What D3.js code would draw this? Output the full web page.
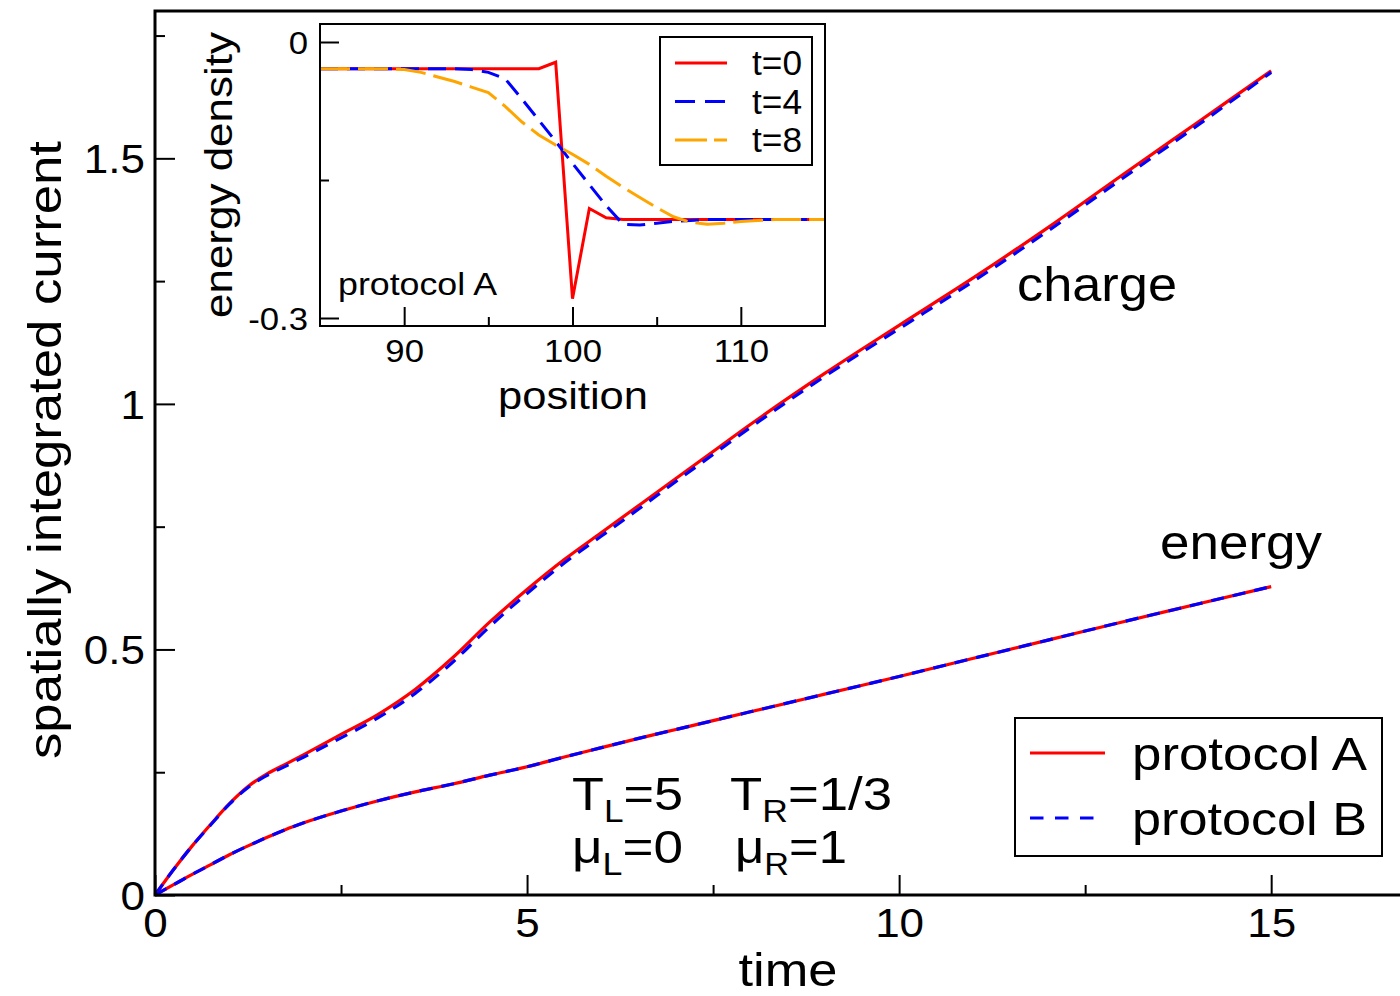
<!DOCTYPE html>
<html>
<head>
<meta charset="utf-8">
<script src="https://cdn.jsdelivr.net/npm/d3@7"></script>
<style>
  body { margin: 0; background: #fff; }
  svg { display: block; }
  text { font-family: "Liberation Sans", Arial, Helvetica, sans-serif; fill: #000; }
</style>
</head>
<body>
<svg id="chart" width="1400" height="996"></svg>
<script>
// ---------------- data ----------------
const time = [0,0.25,0.5,0.75,1,1.25,1.5,1.75,2,2.5,3,3.5,4,4.5,5,5.5,6,6.5,7,7.5,8,9,10,11,12,13,14,15];
const chargeA = [0,0.052,0.100,0.144,0.186,0.221,0.246,0.266,0.286,0.327,0.368,0.419,0.483,0.556,0.622,0.683,0.738,0.793,0.848,0.903,0.958,1.062,1.160,1.257,1.359,1.466,1.572,1.678];
const chargeB = [0,0.052,0.100,0.143,0.185,0.219,0.243,0.262,0.281,0.320,0.361,0.411,0.474,0.547,0.614,0.676,0.731,0.786,0.842,0.897,0.952,1.056,1.153,1.250,1.352,1.459,1.566,1.675];
const energyA = [0,0.021,0.042,0.062,0.082,0.100,0.117,0.133,0.147,0.171,0.192,0.210,0.226,0.244,0.261,0.281,0.300,0.319,0.337,0.355,0.373,0.409,0.445,0.482,0.519,0.556,0.592,0.628];
const energyB = [0,0.021,0.042,0.062,0.082,0.100,0.117,0.133,0.147,0.171,0.192,0.210,0.226,0.244,0.261,0.281,0.300,0.319,0.337,0.355,0.373,0.409,0.445,0.482,0.519,0.556,0.592,0.628];

const position = d3.range(85, 116); // 85..115
const densT0 = [-0.029,-0.029,-0.029,-0.029,-0.029,-0.029,-0.029,-0.029,-0.029,-0.029,-0.029,-0.029,-0.029,-0.029,-0.022,-0.279,-0.181,-0.191,-0.193,-0.193,-0.193,-0.193,-0.193,-0.193,-0.193,-0.193,-0.193,-0.193,-0.193,-0.193,-0.193];
const densT4 = [-0.029,-0.029,-0.029,-0.029,-0.029,-0.029,-0.029,-0.029,-0.029,-0.030,-0.033,-0.040,-0.062,-0.085,-0.108,-0.132,-0.155,-0.178,-0.198,-0.199,-0.197,-0.195,-0.194,-0.193,-0.193,-0.193,-0.193,-0.193,-0.193,-0.193,-0.193];
const densT8 = [-0.029,-0.029,-0.029,-0.029,-0.029,-0.030,-0.033,-0.038,-0.043,-0.049,-0.055,-0.070,-0.087,-0.101,-0.112,-0.122,-0.133,-0.146,-0.158,-0.169,-0.180,-0.190,-0.196,-0.198,-0.197,-0.195,-0.194,-0.193,-0.193,-0.193,-0.193];

const xMajor = [0,5,10,15], xMinor = [2.5,7.5,12.5];
const yMajor = [0,0.5,1,1.5], yMinor = [0.25,0.75,1.25,1.75];
const yMajorLabels = ["0","0.5","1","1.5"];
const insetXMajor = [90,100,110], insetXMinor = [95,105];
const insetYMajor = [-0.3,0], insetYMinor = [-0.15];
const insetYLabels = ["-0.3","0"];

const mainSeries = [
  {name:"protocol A", values: chargeA, color:"#ff0000", dash:null},
  {name:"protocol B", values: chargeB, color:"#0000ff", dash:"13,9"},
  {name:"protocol A", values: energyA, color:"#ff0000", dash:null},
  {name:"protocol B", values: energyB, color:"#0000ff", dash:"13,9"}
];
const insetSeries = [
  {name:"t=0", values: densT0, color:"#ff0000", dash:null},
  {name:"t=4", values: densT4, color:"#0000ff", dash:"18,9"},
  {name:"t=8", values: densT8, color:"#ffa500", dash:"30,8"}
];

// ---------------- layout ----------------
const svg = d3.select("#chart");
svg.append("rect").attr("width",1400).attr("height",996).attr("fill","#fff");

const M = {left:155, right:1420, top:11, bottom:895};
const x = d3.scaleLinear().domain([0,17]).range([M.left, M.right]);
const y = d3.scaleLinear().domain([0,1.8]).range([M.bottom, M.top]);

function stretch(sel, k){
  sel.each(function(){
    const len = this.getComputedTextLength();
    d3.select(this).attr("textLength", len*k).attr("lengthAdjust","spacingAndGlyphs");
  });
}
function fitLen(sel, w){ sel.attr("textLength", w).attr("lengthAdjust","spacingAndGlyphs"); }

// main lines
const lineGen = vals => d3.line().x((d,i)=>x(time[i])).y(d=>y(d)).curve(d3.curveMonotoneX)(vals);
svg.append("g").selectAll("path").data(mainSeries).join("path")
  .attr("d", d=>lineGen(d.values))
  .attr("fill","none").attr("stroke",d=>d.color).attr("stroke-width",3.2)
  .attr("stroke-dasharray",d=>d.dash);

// main axes
const gx = svg.append("g").attr("transform",`translate(0,${M.bottom})`)
  .call(d3.axisBottom(x).tickValues(xMajor).tickSize(-20).tickSizeOuter(0).tickPadding(14).tickFormat(d3.format("d")));
const gx2 = svg.append("g").attr("transform",`translate(0,${M.bottom})`)
  .call(d3.axisBottom(x).tickValues(xMinor).tickSize(-10).tickSizeOuter(0).tickFormat(""));
const gy = svg.append("g").attr("transform",`translate(${M.left},0)`)
  .call(d3.axisLeft(y).tickValues(yMajor).tickSize(-20).tickSizeOuter(0).tickPadding(10).tickFormat((d,i)=>yMajorLabels[i]));
const gy2 = svg.append("g").attr("transform",`translate(${M.left},0)`)
  .call(d3.axisLeft(y).tickValues(yMinor).tickSize(-10).tickSizeOuter(0).tickFormat(""));
[gx,gx2,gy,gy2].forEach(g=>{
  g.select(".domain").remove();
  g.selectAll(".tick line").attr("stroke","#000").attr("stroke-width",2);
});
gx.selectAll("text").attr("font-size",40).attr("fill","#000").attr("font-family","Liberation Sans, Arial, sans-serif");
gy.selectAll("text").attr("font-size",40).attr("fill","#000").attr("font-family","Liberation Sans, Arial, sans-serif").attr("dy","0.36em");
stretch(gx.selectAll("text"),1.1);
stretch(gy.selectAll("text"),1.1);

// frame
svg.append("path").attr("d",`M${M.right},${M.top}H${M.left}V${M.bottom}H${M.right}`)
  .attr("fill","none").attr("stroke","#000").attr("stroke-width",3);

// axis titles
fitLen(svg.append("text").attr("x",788).attr("y",986).attr("text-anchor","middle").attr("font-size",46).text("time"),99);
fitLen(svg.append("text").attr("transform","translate(61,450) rotate(-90)").attr("text-anchor","middle").attr("font-size",46).text("spatially integrated current"),618);

// curve labels
fitLen(svg.append("text").attr("x",1017).attr("y",301).attr("font-size",48).text("charge"),160);
fitLen(svg.append("text").attr("x",1160).attr("y",559).attr("font-size",48).text("energy"),162);

// parameters annotation
function subText(xp, yp, main, sub, rest, w){
  const t = svg.append("text").attr("x",xp).attr("y",yp).attr("font-size",46);
  t.append("tspan").text(main);
  t.append("tspan").attr("font-size",31).attr("dy",12).text(sub);
  t.append("tspan").attr("dy",-12).text(rest);
  fitLen(t,w);
}
subText(572,810,"T","L","=5",111);
subText(730,810,"T","R","=1/3",162);
subText(572,863,"\u03bc","L","=0",111);
subText(735,863,"\u03bc","R","=1",112);

// main legend
const lg = svg.append("g");
lg.append("rect").attr("x",1015).attr("y",718).attr("width",367).attr("height",138)
  .attr("fill","#fff").attr("stroke","#000").attr("stroke-width",2);
const legItems = [mainSeries[0], mainSeries[1]];
legItems.forEach((s,i)=>{
  const yy = 753 + i*65;
  lg.append("line").attr("x1",1030).attr("x2",1105).attr("y1",yy).attr("y2",yy)
    .attr("stroke",s.color).attr("stroke-width",3.2).attr("stroke-dasharray",i===1?"13.5,11.5":null);
  fitLen(lg.append("text").attr("x",1132).attr("y",yy+17).attr("font-size",46).text(s.name),235);
});

// ---------------- inset ----------------
const I = {left:320, right:825, top:24, bottom:326};
const xi = d3.scaleLinear().domain([85,115]).range([I.left, I.right]);
const yi = d3.scaleLinear().domain([-0.3,0]).range([318,42]);
const ins = svg.append("g");
ins.append("rect").attr("x",I.left).attr("y",I.top).attr("width",I.right-I.left).attr("height",I.bottom-I.top)
  .attr("fill","#fff");
svg.append("clipPath").attr("id","insclip").append("rect")
  .attr("x",I.left).attr("y",I.top).attr("width",I.right-I.left).attr("height",I.bottom-I.top);
const iLine = vals => d3.line().x((d,i)=>xi(position[i])).y(d=>yi(d))(vals);
ins.append("g").attr("clip-path","url(#insclip)").selectAll("path").data(insetSeries).join("path")
  .attr("d",d=>iLine(d.values)).attr("fill","none").attr("stroke",d=>d.color)
  .attr("stroke-width",3).attr("stroke-dasharray",d=>d.dash);

const ix = ins.append("g").attr("transform",`translate(0,${I.bottom})`)
  .call(d3.axisBottom(xi).tickValues(insetXMajor).tickSize(-19).tickSizeOuter(0).tickPadding(14).tickFormat(d3.format("d")));
const ix2 = ins.append("g").attr("transform",`translate(0,${I.bottom})`)
  .call(d3.axisBottom(xi).tickValues(insetXMinor).tickSize(-9).tickSizeOuter(0).tickFormat(""));
const iy = ins.append("g").attr("transform",`translate(${I.left},0)`)
  .call(d3.axisLeft(yi).tickValues(insetYMajor).tickSize(-19).tickSizeOuter(0).tickPadding(12).tickFormat((d,i)=>insetYLabels[i]));
const iy2 = ins.append("g").attr("transform",`translate(${I.left},0)`)
  .call(d3.axisLeft(yi).tickValues(insetYMinor).tickSize(-9).tickSizeOuter(0).tickFormat(""));
[ix,ix2,iy,iy2].forEach(g=>{
  g.select(".domain").remove();
  g.selectAll(".tick line").attr("stroke","#000").attr("stroke-width",2);
});
ix.selectAll("text").attr("font-size",31).attr("fill","#000").attr("font-family","Liberation Sans, Arial, sans-serif");
iy.selectAll("text").attr("font-size",31).attr("fill","#000").attr("font-family","Liberation Sans, Arial, sans-serif").attr("dy","0.36em");
stretch(ix.selectAll("text"),1.12);
stretch(iy.selectAll("text"),1.12);
ins.append("rect").attr("x",I.left).attr("y",I.top).attr("width",I.right-I.left).attr("height",I.bottom-I.top)
  .attr("fill","none").attr("stroke","#000").attr("stroke-width",2);

fitLen(ins.append("text").attr("x",573).attr("y",409).attr("text-anchor","middle").attr("font-size",38).text("position"),150);
fitLen(ins.append("text").attr("transform","translate(232,175) rotate(-90)").attr("text-anchor","middle").attr("font-size",38).text("energy density"),286);
fitLen(ins.append("text").attr("x",338).attr("y",295).attr("font-size",31).text("protocol A"),159);

// inset legend
ins.append("rect").attr("x",660).attr("y",37).attr("width",152).attr("height",128)
  .attr("fill","#fff").attr("stroke","#000").attr("stroke-width",2);
insetSeries.forEach((s,i)=>{
  const yy = 63 + i*38.5;
  ins.append("line").attr("x1",675).attr("x2",727).attr("y1",yy).attr("y2",yy)
    .attr("stroke",s.color).attr("stroke-width",3).attr("stroke-dasharray",i===1?"20,10":(i===2?"32,7":null));
  fitLen(ins.append("text").attr("x",752).attr("y",yy+12).attr("font-size",35).text(s.name),50);
});
</script>
</body>
</html>
